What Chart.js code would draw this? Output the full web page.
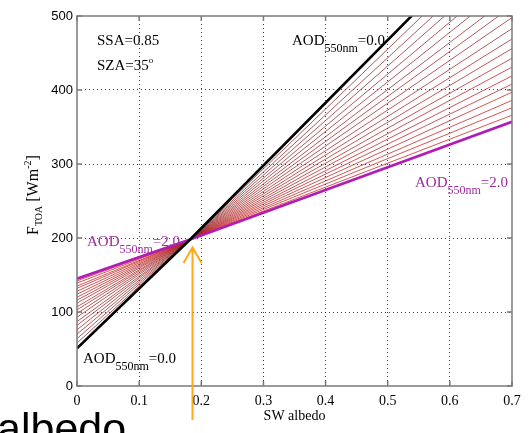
<!DOCTYPE html>
<html>
<head>
<meta charset="utf-8">
<script src="https://cdn.jsdelivr.net/npm/chart.js@4.4.0/dist/chart.umd.min.js"></script>
<style>
  html, body { margin: 0; padding: 0; background: #fff; }
  #wrap { width: 530px; height: 433px; position: relative; }
</style>
</head>
<body>
<div id="wrap"><canvas id="toaChart"></canvas></div>
<script>
// albedo positions where each curve is sampled (left edge, crossing point, right edge)
const albedo = [0, 0.182, 0.7];
// aerosol optical depth of each curve, 0.0 .. 2.0 in steps of 0.1
const aod = [0.0, 0.1, 0.2, 0.3, 0.4, 0.5, 0.6, 0.7, 0.8, 0.9, 1.0,
             1.1, 1.2, 1.3, 1.4, 1.5, 1.6, 1.7, 1.8, 1.9, 2.0];
// TOA flux [W m-2] of each curve at the three albedo positions
const fluxLeft  = [51, 58, 64, 70, 76, 82, 87, 93, 98, 103, 107,
                   112, 116, 120, 124, 128, 132, 135, 139, 142, 145];
const fluxCross = [198, 198, 198, 198, 198, 198, 198, 198, 198, 198, 198,
                   198, 198, 198, 198, 198, 198, 198, 198, 198, 198];
const fluxRight = [637, 617, 598, 580, 562, 545, 528, 513, 498, 483, 469,
                   456, 443, 431, 419, 408, 397, 386, 376, 366, 357];
const xTicks = [0, 0.1, 0.2, 0.3, 0.4, 0.5, 0.6, 0.7];
const yTicks = [0, 100, 200, 300, 400, 500];

const SERIF = '"Liberation Serif", "Times New Roman", serif';
const SANS = '"Liberation Sans", Arial, sans-serif';
const MAGENTA = '#b01cb6';

const datasets = aod.map((tau, i) => {
  const pts = albedo.map((a, k) => ({ x: a, y: [fluxLeft, fluxCross, fluxRight][k][i] }));
  const last = aod.length - 1;
  if (i === 0) {
    return { label: 'AOD ' + tau.toFixed(1), data: pts, borderColor: '#000', borderWidth: 2.6, order: 0 };
  }
  if (i === last) {
    return { label: 'AOD ' + tau.toFixed(1), data: pts, borderColor: MAGENTA, borderWidth: 2.6, order: 0 };
  }
  // thin red curves, darker for small optical depth
  const t = i / last;
  const r = Math.round(130 + 80 * t), g = Math.round(40 - 15 * t);
  return { label: 'AOD ' + tau.toFixed(1), data: pts, borderColor: `rgb(${r},${g},${g})`, borderWidth: 0.75, order: 1 };
});

// text with a sub- or superscript part, drawn as runs along the baseline
function runs(ctx, x, y, parts, color) {
  ctx.fillStyle = color;
  ctx.textBaseline = 'alphabetic';
  ctx.textAlign = 'left';
  parts.forEach(p => {
    ctx.font = p.size + 'px ' + SERIF;
    ctx.fillText(p.t, x, y + (p.dy || 0));
    x += ctx.measureText(p.t).width;
  });
}

function aodLabel(ctx, x, y, val, color) {
  runs(ctx, x, y, [
    { t: 'AOD', size: 15 },
    { t: '550nm', size: 12, dy: 7 },
    { t: '=' + val, size: 15 }
  ], color);
}

const decor = {
  id: 'decor',
  beforeDraw(chart) {
    const ctx = chart.ctx;
    ctx.save();
    ctx.fillStyle = '#fff';
    ctx.fillRect(0, 0, chart.width, chart.height);
    ctx.restore();
  },
  afterDraw(chart) {
    const ctx = chart.ctx;
    const { left, right, top, bottom } = chart.chartArea;
    const xs = chart.scales.x, ys = chart.scales.y;
    ctx.save();

    // axes box with inward ticks
    ctx.strokeStyle = '#7a7a7a';
    ctx.lineWidth = 1.5;
    ctx.strokeRect(left, top, right - left, bottom - top);
    ctx.beginPath();
    xTicks.forEach(v => {
      const px = xs.getPixelForValue(v);
      ctx.moveTo(px, bottom); ctx.lineTo(px, bottom - 5);
      ctx.moveTo(px, top); ctx.lineTo(px, top + 5);
    });
    yTicks.forEach(v => {
      const py = ys.getPixelForValue(v);
      ctx.moveTo(left, py); ctx.lineTo(left + 5, py);
      ctx.moveTo(right, py); ctx.lineTo(right - 5, py);
    });
    ctx.stroke();

    // parameters
    runs(ctx, 97, 45, [{ t: 'SSA=0.85', size: 15 }], '#000');
    runs(ctx, 97, 70, [{ t: 'SZA=35', size: 15 }, { t: 'o', size: 9, dy: -7 }], '#000');

    // curve labels
    aodLabel(ctx, 292, 45, '0.0', '#000');
    aodLabel(ctx, 83, 363, '0.0', '#000');
    aodLabel(ctx, 415, 187, '2.0', '#a02aa0');
    aodLabel(ctx, 87, 246, '2.0', '#a02aa0');

    // y axis title, rotated
    ctx.save();
    ctx.translate(37.5, 235);
    ctx.rotate(-Math.PI / 2);
    runs(ctx, 0, 0, [
      { t: 'F', size: 16 },
      { t: 'TOA', size: 10, dy: 4 },
      { t: ' [Wm', size: 16 },
      { t: '-2', size: 10, dy: -7 },
      { t: ']', size: 16 }
    ], '#000');
    ctx.restore();

    // arrow pointing at the crossing albedo
    ctx.strokeStyle = '#ffa81c';
    ctx.lineWidth = 2;
    ctx.beginPath();
    ctx.moveTo(192.5, 420); ctx.lineTo(192.5, 248);
    ctx.moveTo(183.5, 263); ctx.lineTo(192.5, 247.5); ctx.lineTo(201.5, 263);
    ctx.stroke();

    // slide text below the figure
    ctx.fillStyle = '#000';
    ctx.font = '43px ' + SANS;
    ctx.textBaseline = 'alphabetic';
    ctx.fillText('albedo', -3, 443);

    ctx.restore();
  }
};

const gridColor = (max) => (c) => (c.tick && (c.tick.value === 0 || c.tick.value === max)) ? 'rgba(0,0,0,0)' : 'rgba(0,0,0,0.75)';

new Chart(document.getElementById('toaChart'), {
  type: 'line',
  data: { datasets: datasets },
  options: {
    responsive: true,
    maintainAspectRatio: false,
    animation: false,
    events: [],
    layout: { padding: { top: 16, right: 18, left: 0, bottom: 0 } },
    elements: { point: { radius: 0 }, line: { tension: 0 } },
    plugins: { legend: { display: false }, tooltip: { enabled: false } },
    scales: {
      x: {
        type: 'linear',
        min: 0, max: 0.7,
        afterBuildTicks: s => { s.ticks = xTicks.map(v => ({ value: v })); },
        afterFit: s => { s.height = 47; },
        grid: { color: gridColor(0.7), lineWidth: 1, drawTicks: false },
        border: { display: false, dash: [1, 3] },
        ticks: { color: '#000', padding: 7, font: { family: SERIF, size: 14 }, maxRotation: 0,
                 callback: v => String(v) },
        title: { display: true, text: 'SW albedo', color: '#000',
                 font: { family: SERIF, size: 14 }, padding: { top: 0, bottom: 8 } }
      },
      y: {
        type: 'linear',
        min: 0, max: 500,
        afterBuildTicks: s => { s.ticks = yTicks.map(v => ({ value: v })); },
        afterFit: s => { s.width = 77; },
        grid: { color: gridColor(500), lineWidth: 1, drawTicks: false },
        border: { display: false, dash: [1, 3] },
        ticks: { color: '#000', padding: 4, font: { family: SANS, size: 13 } }
      }
    }
  },
  plugins: [decor]
});
</script>
</body>
</html>
